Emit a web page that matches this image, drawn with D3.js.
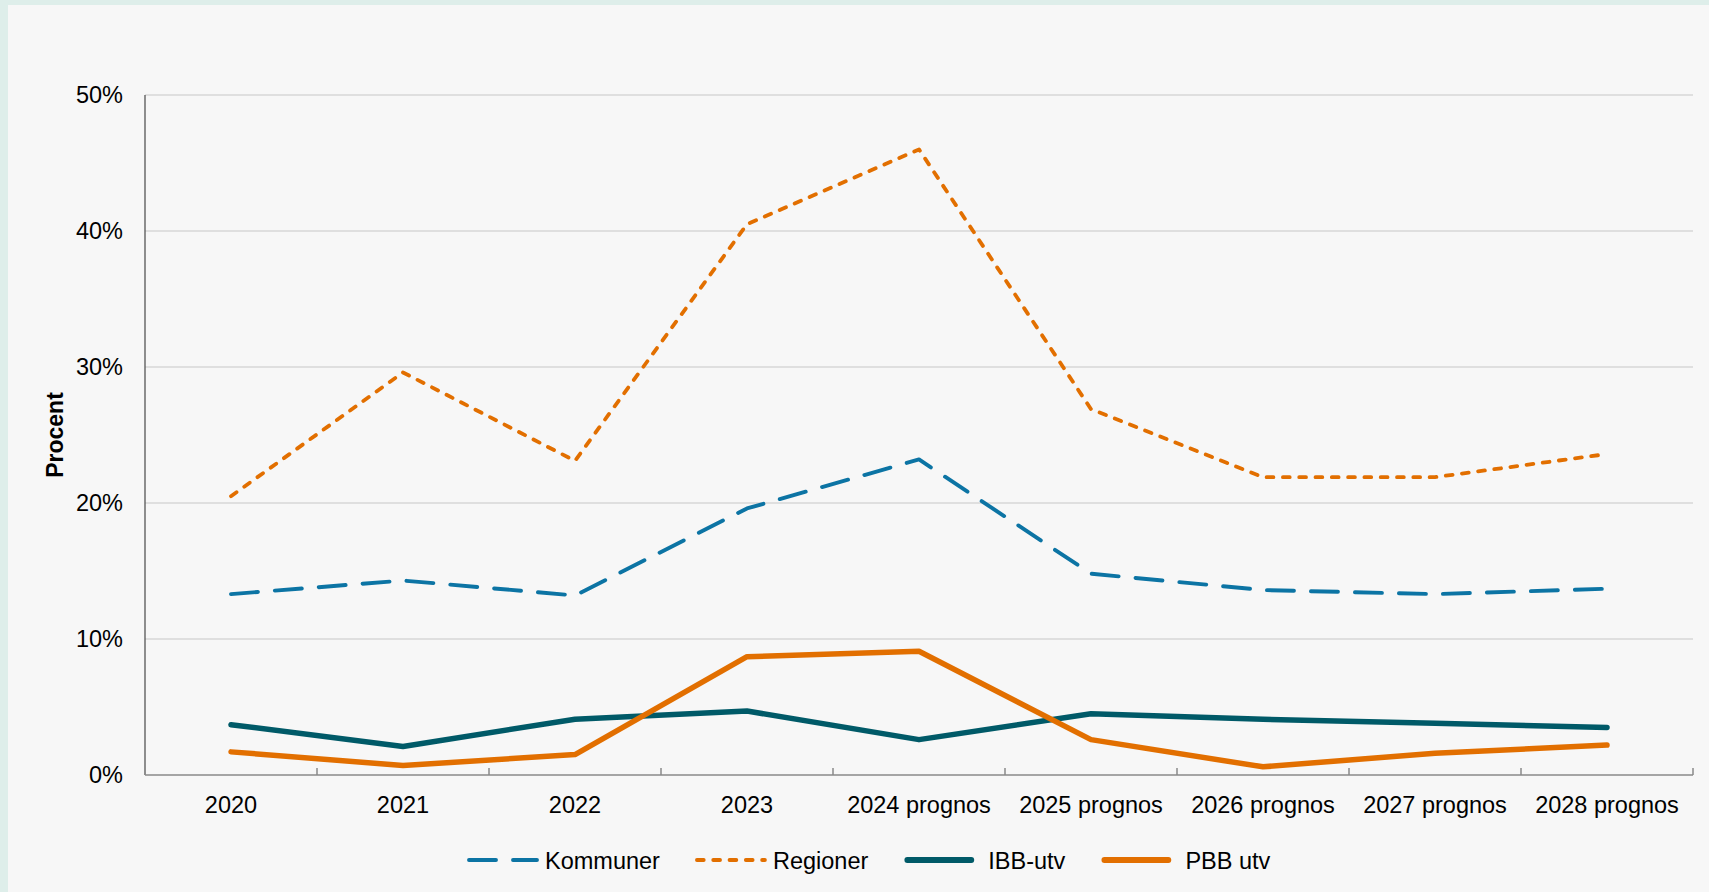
<!DOCTYPE html>
<html>
<head>
<meta charset="utf-8">
<script src="https://cdn.jsdelivr.net/npm/d3@7"></script>
<style>
  html, body { margin: 0; padding: 0; background: #deeeea; }
  #chart { position: absolute; left: 8px; top: 5px; width: 1701px; height: 887px; background: #f7f7f7; }
  svg { position: absolute; left: 0; top: 0; }
  text { font-family: "Liberation Sans", Arial, sans-serif; fill: #000; }
</style>
</head>
<body>
<div id="chart"></div>
<script>
const categories = ["2020", "2021", "2022", "2023", "2024 prognos", "2025 prognos", "2026 prognos", "2027 prognos", "2028 prognos"];
const kommuner = [13.3, 14.3, 13.2, 19.6, 23.2, 14.8, 13.6, 13.3, 13.7];
const regioner = [20.5, 29.6, 23.1, 40.5, 46.0, 26.9, 21.9, 21.9, 23.6];
const ibbUtv = [3.7, 2.1, 4.1, 4.7, 2.6, 4.5, 4.1, 3.8, 3.5];
const pbbUtv = [1.7, 0.7, 1.5, 8.7, 9.1, 2.6, 0.6, 1.6, 2.2];
const yTicks = [0, 10, 20, 30, 40, 50];

const width = 1709;
const height = 892;

const svg = d3.select("body").append("svg").attr("width", width).attr("height", height);

const plotLeft = 145, plotRight = 1693, plotTop = 95, plotBottom = 775;

const x = d3.scaleBand().domain(categories).range([plotLeft, plotRight]);
const y = d3.scaleLinear().domain([0, 50]).range([plotBottom, plotTop]);
const xc = d => x(d) + x.bandwidth() / 2;

// gridlines
svg.append("g")
    .selectAll("line")
    .data(yTicks.filter(t => t > 0))
    .enter()
    .append("line")
    .attr("x1", plotLeft).attr("x2", plotRight)
    .attr("y1", d => y(d)).attr("y2", d => y(d))
    .attr("stroke", "#c8c8c8")
    .attr("stroke-width", 1.2);

// y axis labels
const yAxis = svg.append("g")
    .attr("transform", `translate(${plotLeft},0)`)
    .call(d3.axisLeft(y).tickValues(yTicks).tickFormat(d => d + "%").tickSize(0).tickPadding(22));
yAxis.select(".domain").remove();
yAxis.selectAll("text").style("font-size", "23.5px").attr("fill", "#000");

svg.append("line")
    .attr("x1", plotLeft).attr("x2", plotLeft)
    .attr("y1", plotTop).attr("y2", plotBottom)
    .attr("stroke", "#555").attr("stroke-width", 1.3);

// x axis
const xAxis = svg.append("g")
    .attr("transform", `translate(0,${plotBottom})`)
    .call(d3.axisBottom(x).tickSize(0).tickPadding(21));
xAxis.select(".domain").remove();
xAxis.selectAll("text").style("font-size", "23.5px").attr("fill", "#000");

svg.append("line")
    .attr("x1", plotLeft).attr("x2", plotRight)
    .attr("y1", plotBottom).attr("y2", plotBottom)
    .attr("stroke", "#8a8a8a").attr("stroke-width", 1.5);

// ticks between the categories
const edges = categories.map(d => x(d)).concat([plotRight]);
svg.append("g")
    .selectAll("line")
    .data(edges.slice(1))
    .enter()
    .append("line")
    .attr("x1", d => d).attr("x2", d => d)
    .attr("y1", plotBottom).attr("y2", plotBottom - 7)
    .attr("stroke", "#8a8a8a").attr("stroke-width", 1.5);

// y title
svg.append("text")
    .attr("transform", `translate(63,435) rotate(-90)`)
    .attr("text-anchor", "middle")
    .style("font-size", "23px")
    .style("font-weight", "bold")
    .text("Procent");

const series = [
    { name: "Kommuner", values: kommuner, color: "#0c74a4", width: 3.9, dash: "27,17" },
    { name: "Regioner", values: regioner, color: "#e26f00", width: 3.8, dash: "6.8,9.5" },
    { name: "IBB-utv", values: ibbUtv, color: "#005a68", width: 5.5, dash: null },
    { name: "PBB utv", values: pbbUtv, color: "#e26f00", width: 5.5, dash: null }
];

const line = d3.line()
    .x((d, i) => xc(categories[i]))
    .y(d => y(d));

svg.append("g")
    .selectAll("path")
    .data(series)
    .enter()
    .append("path")
    .attr("d", d => line(d.values))
    .attr("fill", "none")
    .attr("stroke", d => d.color)
    .attr("stroke-width", d => d.width)
    .attr("stroke-dasharray", d => d.dash)
    .attr("stroke-linecap", "round")
    .attr("stroke-linejoin", "round");

// legend
const legend = svg.append("g");
let lx = 469;
const ly = 860;
series.forEach(s => {
    const solid = !s.dash;
    legend.append("line")
        .attr("x1", solid ? lx + 2 : lx).attr("x2", solid ? lx + 66 : lx + 68)
        .attr("y1", ly).attr("y2", ly)
        .attr("stroke", s.color)
        .attr("stroke-width", solid ? 5.8 : s.width)
        .attr("stroke-dasharray", s.dash)
        .attr("stroke-linecap", "round");
    const textX = lx + (solid ? 83 : 76);
    const t = legend.append("text")
        .attr("x", textX)
        .attr("y", ly + 9)
        .style("font-size", "23.5px")
        .text(s.name);
    lx = textX + t.node().getComputedTextLength() + 37;
});
</script>
</body>
</html>
